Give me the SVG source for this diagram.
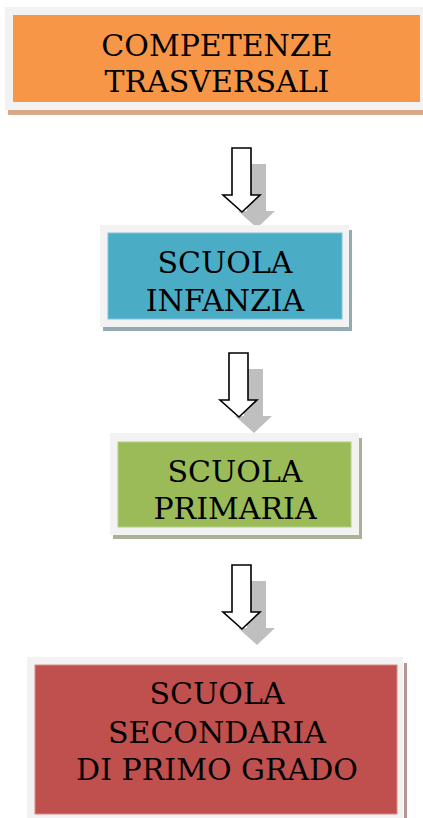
<svg xmlns="http://www.w3.org/2000/svg" width="423" height="818" viewBox="0 0 423 818">
<style>
.frame{fill:#f2f2f2}
.lbl{font-family:"DejaVu Serif","Liberation Serif",serif;font-size:30px;fill:#000;text-anchor:middle}
.arrow{fill:#fff;stroke:#000;stroke-width:1.6;stroke-linejoin:miter}
.ashadow{fill:#bfbfbf}
</style>
<defs>
<path id="arr" d="M0,0 H19 V47 H28 L10,64 L-9,47 H0 Z"/>
</defs>
<rect width="423" height="818" fill="#fff"/>
<g id="connectors">
<g transform="translate(232,148)"><use href="#arr" class="ashadow" transform="translate(15,16)"/><use href="#arr" class="arrow"/></g>
<g transform="translate(229,353)"><use href="#arr" class="ashadow" transform="translate(15,16)"/><use href="#arr" class="arrow"/></g>
<g transform="translate(232,565)"><use href="#arr" class="ashadow" transform="translate(15,16)"/><use href="#arr" class="arrow"/></g>
</g>
<g id="n1">
<rect x="8" y="110" width="415" height="5" fill="#d7a98a"/>
<rect class="frame" x="5" y="7" width="418" height="103"/>
<rect x="13" y="15" width="407" height="87" fill="#f79646"/>
<text class="lbl" x="217" y="56">COMPETENZE</text>
<text class="lbl" x="217" y="92">TRASVERSALI</text>
</g>
<g id="n2">
<rect x="103" y="230" width="249" height="101" fill="#93aab5"/>
<rect class="frame" x="100" y="225" width="249" height="102"/>
<rect x="108" y="233" width="234" height="86" fill="#4bacc6" stroke="#7fc3d6" stroke-width="1"/>
<text class="lbl" x="225" y="273">SCUOLA</text>
<text class="lbl" x="225" y="311">INFANZIA</text>
</g>
<g id="n3">
<rect x="113" y="438" width="249" height="101" fill="#a9b294"/>
<rect class="frame" x="110" y="433" width="249" height="102"/>
<rect x="118" y="442" width="233" height="85" fill="#9bbb59" stroke="#b5cd86" stroke-width="1"/>
<text class="lbl" x="235" y="482">SCUOLA</text>
<text class="lbl" x="235" y="519">PRIMARIA</text>
</g>
<g id="n4">
<rect x="404" y="663" width="3" height="155" fill="#b59596"/>
<rect class="frame" x="27" y="657" width="376" height="161"/>
<rect x="35" y="665" width="362" height="149" fill="#c0504d" stroke="#d58987" stroke-width="1"/>
<text class="lbl" x="217" y="704">SCUOLA</text>
<text class="lbl" x="217" y="743">SECONDARIA</text>
<text class="lbl" x="217" y="780">DI PRIMO GRADO</text>
</g>
</svg>
